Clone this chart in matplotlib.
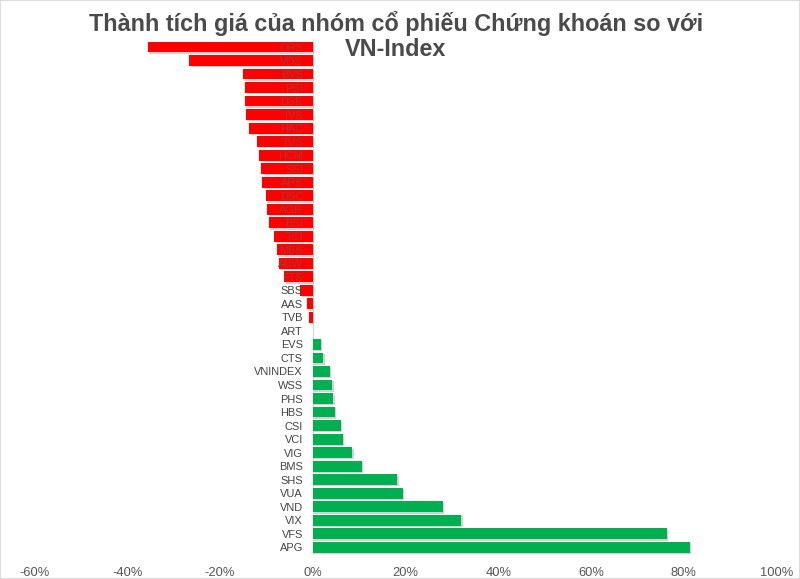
import matplotlib
matplotlib.use("Agg")
import matplotlib.pyplot as plt
import matplotlib.patheffects as pe
from matplotlib.ticker import FuncFormatter
from matplotlib.patches import Rectangle

plt.rcParams['font.family'] = ['Liberation Sans', 'DejaVu Sans']

tickers = ["ORS", "VDS", "BVS", "PSI", "DSE", "IVS", "HAC", "TVS", "HCM", "SSI",
           "APS", "DSC", "AGR", "BSI", "TCI", "MBS", "ABW", "FTS", "SBS", "AAS",
           "TVB", "ART", "EVS", "CTS", "VNINDEX", "WSS", "PHS", "HBS", "CSI", "VCI",
           "VIG", "BMS", "SHS", "VUA", "VND", "VIX", "VFS", "APG"]
values = [-35.6, -26.6, -15.1, -14.6, -14.6, -14.4, -13.7, -12.1, -11.5, -11.1,
          -10.9, -10.1, -9.8, -9.4, -8.3, -7.7, -7.3, -6.1, -2.7, -1.3,
          -0.8, 0.0, 1.7, 2.3, 3.7, 4.2, 4.4, 4.7, 6.0, 6.5,
          8.5, 10.6, 18.2, 19.4, 28.1, 32.0, 76.3, 81.3]
x_ticks = [-60, -40, -20, 0, 20, 40, 60, 80, 100]
title_lines = ["Thành tích giá của nhóm cổ phiếu Chứng khoán so với", "VN-Index"]

RED = "#ff0000"
GREEN = "#00b050"

fig = plt.figure(figsize=(8.0, 5.79), dpi=100)
ax = fig.add_axes([0.0429, 0.0415, 0.9280, 0.8911])

pos = list(range(len(tickers)))
colors = [RED if v < 0 else GREEN for v in values]
bars = ax.barh(pos, values, height=0.8, color=colors, zorder=2)
for b in bars:
    b.set_path_effects([pe.SimplePatchShadow(offset=(1.0, -1.0), shadow_rgbFace="#808080", alpha=0.35),
                        pe.Normal()])

ax.axvline(0, color="#d8d8d8", lw=0.8, zorder=1)

ax.set_xlim(-60, 100)
ax.set_ylim(len(tickers) - 0.43, -0.59)
ax.set_xticks(x_ticks)
ax.xaxis.set_major_formatter(FuncFormatter(lambda v, p: f"{int(v)}%"))
ax.set_yticks(pos)
ax.set_yticklabels(tickers)
ax.spines['left'].set_position(('data', 0))
for s in ax.spines.values():
    s.set_visible(False)
ax.yaxis.set_zorder(5)
ax.tick_params(axis='y', length=0, pad=7, labelsize=7.9, labelcolor="#444444")
ax.tick_params(axis='x', length=0, pad=9, labelsize=9.3, labelcolor="#555555")
for lbl, v in zip(ax.get_yticklabels(), values):
    if v < -3:
        lbl.set_color("#b03434")

fig.text(0.495, 1 - 23 / 579, title_lines[0], ha='center', va='center', fontsize=16.8,
         fontweight='bold', color="#4a4a4a")
fig.text(0.495, 1 - 49 / 579, title_lines[1], ha='center', va='center', fontsize=16.8,
         fontweight='bold', color="#4a4a4a")

fig.patches.append(Rectangle((0, 0), 1, 1, transform=fig.transFigure, fill=False,
                             edgecolor="#dddddd", lw=1.5))

fig.savefig("out.png", dpi=100)
